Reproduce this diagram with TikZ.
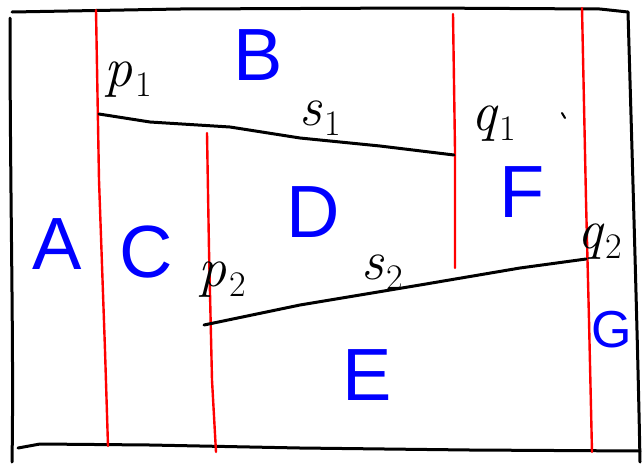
\documentclass[tikz,border=0pt]{standalone}
\usepackage{fontspec}
\setsansfont{Liberation Sans}
\newcommand{\ptlbl}[2]{{\itshape #1}\kern3pt{\fontsize{36}{36}\selectfont\raisebox{-10pt}{#2}}}
\begin{document}
\begin{tikzpicture}[x=1pt,y=-1pt,line cap=round,line join=round,
  frame/.style={draw=black,line width=3pt},
  redline/.style={draw=red,line width=2.4pt},
  seg/.style={draw=black,line width=3pt},
  region/.style={text=blue,font=\sffamily\fontsize{74}{74}\selectfont,inner sep=0pt},
  pt/.style={text=black,font=\fontsize{56}{56}\selectfont,inner sep=0pt}]
\useasboundingbox (0,0) rectangle (643,469);
% outer frame
\draw[frame] (10,18) .. controls (10,200) and (14,350) .. (12,462);
\draw[frame] (12,12) -- (180,9) -- (420,8) -- (600,9) -- (628,12);
\draw[frame] (628,12) .. controls (632,150) and (638,350) .. (640,462);
\draw[frame] (18,448) -- (40,444) -- (150,445) -- (300,448) -- (470,450) -- (640,451);
% red lines
\draw[redline] (96,10) -- (99,180) -- (105,350) -- (108,446);
\coordinate (p1) at (99,114);
\draw[redline] (207,133) -- (209,250) -- (212,380) -- (216,452);
\coordinate (p2) at (210,322);
\draw[redline] (453,14) -- (455,150) -- (455,268);
\coordinate (q1) at (454,155);
\draw[redline] (582,8) -- (586,200) -- (589,320) -- (592,452);
\coordinate (q2) at (586,259);
% segments
\draw[seg] (p1) -- (150,122) -- (230,127) -- (300,138) -- (380,146) -- (q1);
\draw[seg] (204,325) -- (300,305) -- (420,285) -- (520,268) -- (q2);
% labels
\node[region] (B) at (258,55) {B};
\node[region] (A) at (57,244) {A};
\node[region] (C) at (146,252) {C};
\node[region] (D) at (313,212) {D};
\node[region] (F) at (522,192) {F};
\node[region] (E) at (367,375) {E};
\node[region,font=\sffamily\fontsize{52}{52}\selectfont] (G) at (612,330) {G};
\node[pt] (lp1) at (128,80) {\ptlbl{p}{1}};
\node[pt] (ls1) at (320,118) {\ptlbl{s}{1}};
\node[pt] (lq1) at (494,124) {\ptlbl{q}{1}};
\node[pt] (lp2) at (222,280) {\ptlbl{p}{2}};
\node[pt] (ls2) at (382,272) {\ptlbl{s}{2}};
\node[pt] (lq2) at (600,242) {\ptlbl{q}{2}};
\coordinate (tk) at (562,113);
\draw[black,line width=2pt] (tk) -- ++(3,5);
\end{tikzpicture}
\end{document}
